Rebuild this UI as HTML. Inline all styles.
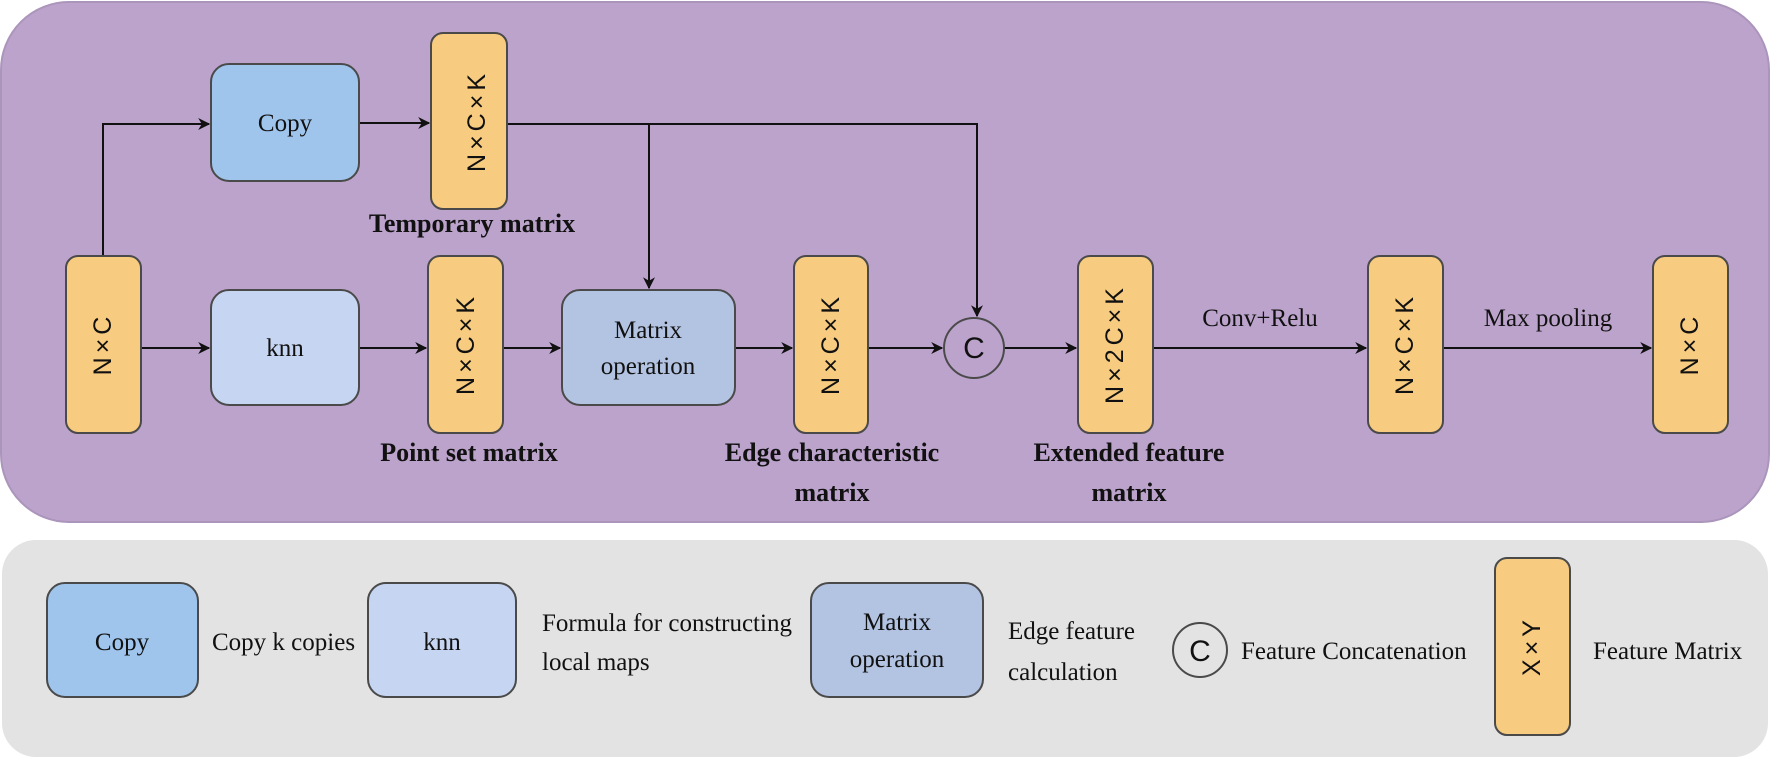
<!DOCTYPE html>
<html><head><meta charset="utf-8"><style>
html,body{margin:0;padding:0;background:#fff;width:1772px;height:760px;overflow:hidden}
</style></head><body>
<svg width="1772" height="760" viewBox="0 0 1772 760" xmlns="http://www.w3.org/2000/svg">
<defs><marker id="a" viewBox="0 0 10 10" refX="9" refY="5" markerWidth="12" markerHeight="12" orient="auto" markerUnits="userSpaceOnUse"><path d="M0,0 L10,5 L0,10 L3,5 z" fill="#111"/></marker></defs>
<rect x="1" y="2" width="1768" height="520" rx="68" fill="#bca3cc" stroke="#ab95bb" stroke-width="2"/>
<rect x="2" y="540" width="1766" height="217" rx="34" fill="#e3e3e3"/>
<g stroke="#111" stroke-width="2" fill="none">
<path d="M103 256 V124 H209" marker-end="url(#a)"/>
<path d="M359 123 H429" marker-end="url(#a)"/>
<path d="M507 124 H977 V316" marker-end="url(#a)"/>
<path d="M649 124 V288" marker-end="url(#a)"/>
<path d="M141 348 H209" marker-end="url(#a)"/>
<path d="M359 348 H426" marker-end="url(#a)"/>
<path d="M503 348 H560" marker-end="url(#a)"/>
<path d="M735 348 H792" marker-end="url(#a)"/>
<path d="M868 348 H942" marker-end="url(#a)"/>
<path d="M1004 348 H1076" marker-end="url(#a)"/>
<path d="M1153 348 H1366" marker-end="url(#a)"/>
<path d="M1443 348 H1651" marker-end="url(#a)"/>
</g>
<g stroke="#4a4a4a" stroke-width="2">
<rect x="211" y="64" width="148" height="117" rx="18" fill="#9fc5ec"/>
<rect x="211" y="290" width="148" height="115" rx="18" fill="#c6d5f1"/>
<rect x="562" y="290" width="173" height="115" rx="18" fill="#b3c3e2"/>
<g fill="#f7cb80">
<rect x="431" y="33" width="76" height="176" rx="12"/>
<rect x="66" y="256" width="75" height="177" rx="12"/>
<rect x="428" y="256" width="75" height="177" rx="12"/>
<rect x="794" y="256" width="74" height="177" rx="12"/>
<rect x="1078" y="256" width="75" height="177" rx="12"/>
<rect x="1368" y="256" width="75" height="177" rx="12"/>
<rect x="1653" y="256" width="75" height="177" rx="12"/>
</g>
<circle cx="974" cy="348" r="30" fill="#bca3cc"/>
<rect x="47" y="583" width="151" height="114" rx="18" fill="#9fc5ec"/>
<rect x="368" y="583" width="148" height="114" rx="18" fill="#c6d5f1"/>
<rect x="811" y="583" width="172" height="114" rx="18" fill="#b3c3e2"/>
<circle cx="1200" cy="650" r="27" fill="#e3e3e3"/>
<rect x="1495" y="558" width="75" height="177" rx="12" fill="#f7cb80"/>
</g>
<g font-size="25" text-anchor="middle" font-family="Liberation Sans, sans-serif" fill="#111">
<text transform="translate(477,121) rotate(-90)" dominant-baseline="central" letter-spacing="4">N×C×K</text>
<text transform="translate(103,344) rotate(-90)" dominant-baseline="central" letter-spacing="4">N×C</text>
<text transform="translate(466,344) rotate(-90)" dominant-baseline="central" letter-spacing="4">N×C×K</text>
<text transform="translate(831,344) rotate(-90)" dominant-baseline="central" letter-spacing="4">N×C×K</text>
<text transform="translate(1115,344) rotate(-90)" dominant-baseline="central" letter-spacing="4">N×2C×K</text>
<text transform="translate(1405,344) rotate(-90)" dominant-baseline="central" letter-spacing="4">N×C×K</text>
<text transform="translate(1690,344) rotate(-90)" dominant-baseline="central" letter-spacing="4">N×C</text>
<text transform="translate(1532,646) rotate(-90)" dominant-baseline="central" letter-spacing="4">X×Y</text>
<text x="974" y="358" font-size="30">C</text>
<text x="1200" y="661" font-size="30">C</text>
</g>
<g font-size="25" text-anchor="middle" font-family="Liberation Serif, serif" fill="#111">
<text x="285" y="131">Copy</text>
<text x="285" y="356">knn</text>
<text x="648" y="338">Matrix</text>
<text x="648" y="374">operation</text>
<text x="1260" y="326">Conv+Relu</text>
<text x="1548" y="326">Max pooling</text>
<text x="122" y="650">Copy</text>
<text x="442" y="650">knn</text>
<text x="897" y="630">Matrix</text>
<text x="897" y="667">operation</text>
</g>
<g font-size="26" font-weight="bold" text-anchor="middle" font-family="Liberation Serif, serif" fill="#111">
<text x="472" y="232">Temporary matrix</text>
<text x="469" y="461">Point set matrix</text>
<text x="832" y="461">Edge characteristic</text>
<text x="832" y="501">matrix</text>
<text x="1129" y="461">Extended feature</text>
<text x="1129" y="501">matrix</text>
</g>
<g font-size="25" font-family="Liberation Serif, serif" fill="#111">
<text x="212" y="650">Copy k copies</text>
<text x="542" y="631">Formula for constructing</text>
<text x="542" y="670">local maps</text>
<text x="1008" y="639">Edge feature</text>
<text x="1008" y="680">calculation</text>
<text x="1241" y="659">Feature Concatenation</text>
<text x="1593" y="659">Feature Matrix</text>
</g>
</svg>
</body></html>
